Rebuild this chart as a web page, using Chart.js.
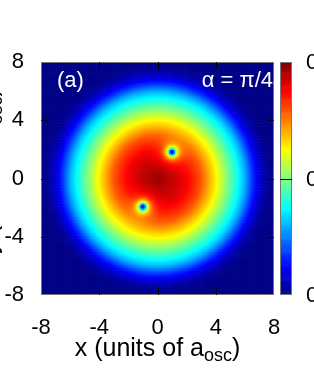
<!DOCTYPE html>
<html>
<head>
<meta charset="utf-8">
<script src="https://cdn.jsdelivr.net/npm/chart.js@4.4.1/dist/chart.umd.min.js"></script>
<style>
  html, body { margin: 0; padding: 0; background: #fff; overflow: hidden; }
  #wrap { width: 314px; height: 372px; }
</style>
</head>
<body>
<div id="wrap"><canvas id="heat" width="314" height="372"></canvas></div>
<script>
const xTicks = [-8, -4, 0, 4, 8];
const yTicks = [-8, -4, 0, 4, 8];
// density along a radius (peak = 1)
const profileR = [0, 1, 2, 3, 4, 5, 5.5, 6, 6.5, 7, 7.5, 8];
const profileN = [1.0, 0.96, 0.9, 0.8, 0.64, 0.47, 0.39, 0.3, 0.18, 0.08, 0.02, 0];
// vortex cores
const vortexX = [1.0, -1.0];
const vortexY = [1.85, -1.9];
const coreSize = 0.25;
const gridStep = 0.1;
const cbTicks = [0, 0.5, 1];
const cbLabels = ['0', '0.03', '0.06'];
const panelLabel = '(a)';
const angleLabel = 'α = π/4';

const FONT = 'Liberation Sans';

function profileAt(r) {
    if (r >= profileR[profileR.length - 1]) return 0;
    for (let i = 1; i < profileR.length; i++) {
        if (r <= profileR[i]) {
            const t = (r - profileR[i - 1]) / (profileR[i] - profileR[i - 1]);
            return profileN[i - 1] + t * (profileN[i] - profileN[i - 1]);
        }
    }
    return 0;
}

function jet(v) {
    v = Math.max(0, Math.min(1, v));
    const stops = [
        [0, 0, 0, 0.53], [0.125, 0, 0, 1], [0.375, 0, 1, 1],
        [0.625, 1, 1, 0], [0.875, 1, 0, 0], [1, 0.5, 0, 0]
    ];
    for (let i = 1; i < stops.length; i++) {
        if (v <= stops[i][0]) {
            const a = stops[i - 1], b = stops[i];
            const t = (v - a[0]) / (b[0] - a[0]);
            const c = [1, 2, 3].map(k => Math.round(255 * (a[k] + t * (b[k] - a[k]))));
            return 'rgb(' + c.join(',') + ')';
        }
    }
    return 'rgb(128,0,0)';
}

// build the cells
const cells = [];
const n = Math.round(16 / gridStep);
for (let i = 0; i < n; i++) {
    for (let j = 0; j < n; j++) {
        const x = -8 + (i + 0.5) * gridStep;
        const y = -8 + (j + 0.5) * gridStep;
        let v = profileAt(Math.sqrt(x * x + y * y));
        for (let k = 0; k < vortexX.length; k++) {
            const d2 = (x - vortexX[k]) ** 2 + (y - vortexY[k]) ** 2;
            v *= d2 / (d2 + coreSize * coreSize);
        }
        cells.push({ x: x, y: y, v: v });
    }
}

const heatPlugin = {
    id: 'heatCells',
    beforeDatasetsDraw(chart) {
        const ctx = chart.ctx, a = chart.chartArea;
        const xs = chart.scales.x, ys = chart.scales.y;
        const h = gridStep / 2;
        ctx.save();
        ctx.beginPath();
        ctx.rect(a.left, a.top, a.right - a.left, a.bottom - a.top);
        ctx.clip();
        cells.forEach(c => {
            const x0 = xs.getPixelForValue(c.x - h), x1 = xs.getPixelForValue(c.x + h);
            const y0 = ys.getPixelForValue(c.y + h), y1 = ys.getPixelForValue(c.y - h);
            ctx.fillStyle = jet(c.v);
            ctx.fillRect(x0, y0, x1 - x0 + 0.6, y1 - y0 + 0.6);
        });
        ctx.restore();
    },
    afterDraw(chart) {
        const ctx = chart.ctx, a = chart.chartArea;
        const xs = chart.scales.x, ys = chart.scales.y, cb = chart.scales.cb;
        ctx.save();

        // frame
        ctx.strokeStyle = '#777';
        ctx.lineWidth = 1;
        ctx.strokeRect(a.left + 0.5, a.top + 0.5, a.right - a.left - 1, a.bottom - a.top - 1);

        // inward ticks
        ctx.strokeStyle = '#000';
        ctx.beginPath();
        xTicks.slice(1, -1).forEach(t => {
            const px = Math.round(xs.getPixelForValue(t)) + 0.5;
            ctx.moveTo(px, a.bottom); ctx.lineTo(px, a.bottom - 7);
            ctx.moveTo(px, a.top); ctx.lineTo(px, a.top + 7);
        });
        yTicks.slice(1, -1).forEach(t => {
            const py = Math.round(ys.getPixelForValue(t)) + 0.5;
            ctx.moveTo(a.left, py); ctx.lineTo(a.left + 7, py);
            ctx.moveTo(a.right, py); ctx.lineTo(a.right - 7, py);
        });
        ctx.stroke();

        // colour bar
        const bx = cb.left + 6, bw = 12;
        const top = cb.getPixelForValue(1), bot = cb.getPixelForValue(0);
        for (let k = 0; k < 250; k++) {
            const v = k / 250;
            const y0 = cb.getPixelForValue(v + 1 / 250), y1 = cb.getPixelForValue(v);
            ctx.fillStyle = jet(v + 0.002);
            ctx.fillRect(bx, y0, bw, Math.min(y1 - y0 + 0.6, bot - y0));
        }
        ctx.strokeStyle = '#777';
        ctx.strokeRect(bx + 0.5, top + 0.5, bw - 1, bot - top - 1);
        ctx.strokeStyle = '#000';
        ctx.beginPath();
        const mid = Math.round(cb.getPixelForValue(cbTicks[1])) + 0.5;
        ctx.moveTo(bx, mid); ctx.lineTo(bx + bw, mid);
        ctx.stroke();

        // colour bar labels (cut by the page edge, as in the figure)
        ctx.fillStyle = '#000';
        ctx.font = '22px "' + FONT + '"';
        ctx.textAlign = 'left';
        ctx.textBaseline = 'middle';
        cbTicks.forEach((t, i) => {
            ctx.fillText(cbLabels[i], cb.left + 32, cb.getPixelForValue(t) + 1);
        });

        // labels inside the plot
        ctx.fillStyle = '#fff';
        ctx.font = '22px "' + FONT + '"';
        ctx.textBaseline = 'alphabetic';
        ctx.textAlign = 'left';
        ctx.fillText(panelLabel, a.left + 16, 87);
        ctx.textAlign = 'right';
        ctx.fillText(angleLabel, a.right - 1, 87);

        // axis titles with subscript
        ctx.fillStyle = '#000';
        const mainF = '25px "' + FONT + '"', subF = '18px "' + FONT + '"';
        function drawTitle(pre, sub, post, cx, cy) {
            ctx.font = mainF; const w1 = ctx.measureText(pre).width, w3 = ctx.measureText(post).width;
            ctx.font = subF; const w2 = ctx.measureText(sub).width;
            let x = cx - (w1 + w2 + w3) / 2;
            ctx.textAlign = 'left';
            ctx.font = mainF; ctx.fillText(pre, x, cy); x += w1;
            ctx.font = subF; ctx.fillText(sub, x, cy + 5); x += w2;
            ctx.font = mainF; ctx.fillText(post, x, cy);
        }
        drawTitle('x (units of a', 'osc', ')', (a.left + a.right) / 2, 356);
        ctx.save();
        ctx.translate(-3, 171);
        ctx.rotate(-Math.PI / 2);
        drawTitle('y (units of a', 'osc', ')', 0, 0);
        ctx.restore();

        ctx.restore();
    }
};

new Chart(document.getElementById('heat'), {
    type: 'scatter',
    data: {
        datasets: [{
            data: cells,
            pointRadius: 0,
            showLine: false
        }]
    },
    options: {
        responsive: false,
        animation: false,
        events: [],
        parsing: false,
        normalized: true,
        layout: { padding: { top: 62, left: 0, right: 0, bottom: 0 } },
        plugins: { legend: { display: false }, tooltip: { enabled: false } },
        scales: {
            x: {
                type: 'linear', position: 'bottom', min: -8, max: 8,
                grid: { display: false }, border: { display: false },
                afterBuildTicks: s => { s.ticks = xTicks.map(v => ({ value: v })); },
                afterFit: s => { s.height = 77; },
                ticks: { color: '#000', font: { family: FONT, size: 22 }, padding: 12, maxRotation: 0 }
            },
            y: {
                type: 'linear', position: 'left', min: -8, max: 8,
                grid: { display: false }, border: { display: false },
                afterBuildTicks: s => { s.ticks = yTicks.map(v => ({ value: v })); },
                afterFit: s => { s.width = 41; },
                ticks: { color: '#000', font: { family: FONT, size: 22 }, padding: 9 }
            },
            cb: {
                type: 'linear', position: 'right', min: 0, max: 1,
                grid: { display: false }, border: { display: false },
                afterFit: s => { s.width = 40; },
                ticks: { display: false }
            }
        }
    },
    plugins: [heatPlugin]
});
</script>
</body>
</html>
